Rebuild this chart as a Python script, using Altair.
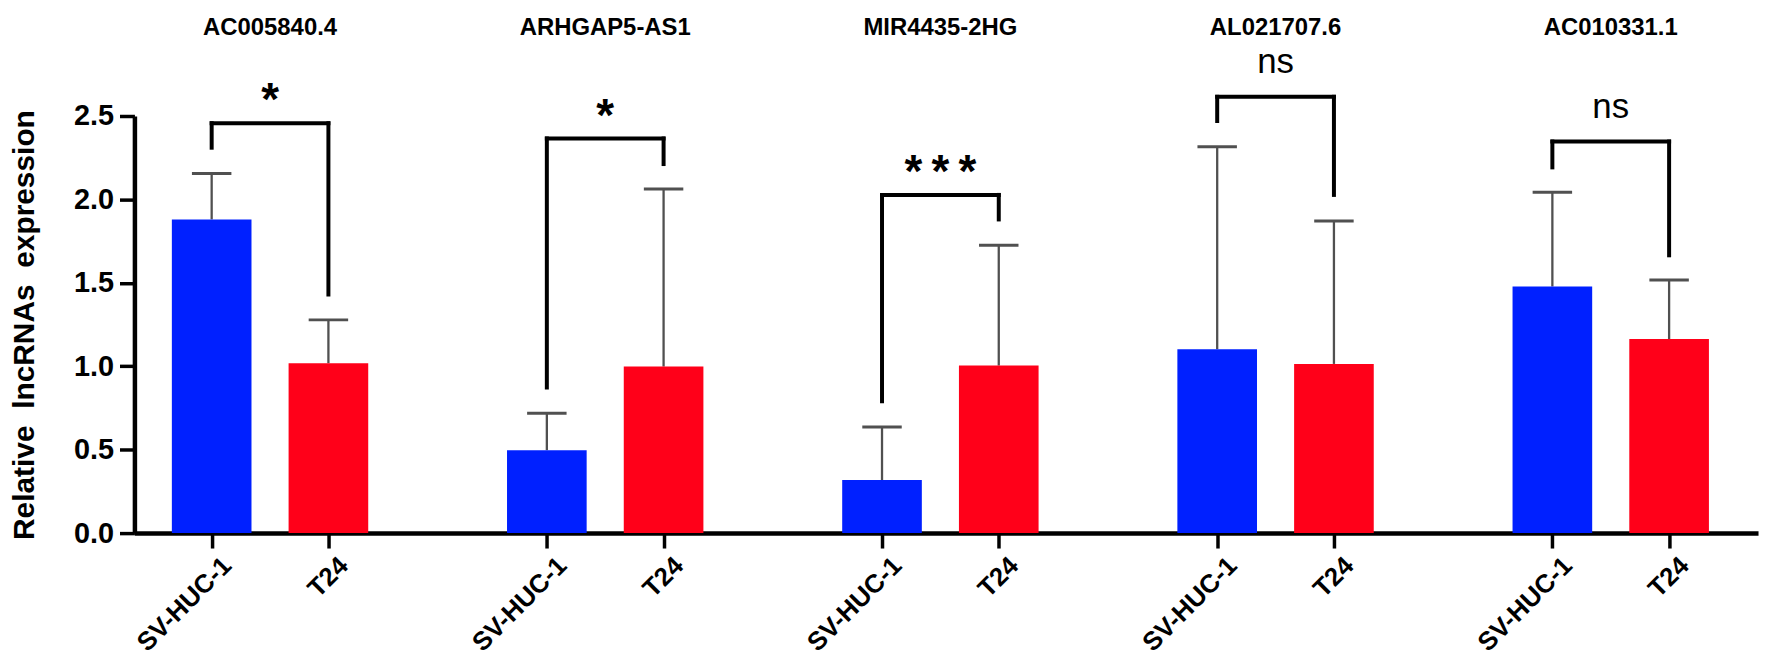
import altair as alt
import pandas as pd

# ---- data ----
genes = ["AC005840.4", "ARHGAP5-AS1", "MIR4435-2HG", "AL021707.6", "AC010331.1"]
cells = ["SV-HUC-1", "T24"]
sv_mean = [1.88, 0.497, 0.318, 1.102, 1.478]
sv_upper = [2.156, 0.718, 0.636, 2.315, 2.043]
t24_mean = [1.018, 0.998, 1.004, 1.014, 1.163]
t24_upper = [1.278, 2.062, 1.726, 1.871, 1.517]
sig_labels = ["*", "*", "***", "ns", "ns"]
bracket_top = [2.457, 2.365, 2.027, 2.615, 2.347]
bracket_left_end = [2.31, 0.873, 0.79, 2.47, 2.192]
bracket_right_end = [1.43, 2.212, 1.88, 2.027, 1.665]
y_ticks = [0, 0.5, 1.0, 1.5, 2.0, 2.5]

BLUE = "#0020FF"
RED = "#FF0019"
FONT = "Liberation Sans"

K = 2.871          # group step in x units (one unit = spacing between the two bars)
CAP = 0.169        # half cap width in x units

rows = []
for g, gene in enumerate(genes):
    rows.append({"gene": gene, "cell": cells[0], "g": g, "c": 0,
                 "mean": sv_mean[g], "upper": sv_upper[g]})
    rows.append({"gene": gene, "cell": cells[1], "g": g, "c": 1,
                 "mean": t24_mean[g], "upper": t24_upper[g]})
bars_df = pd.DataFrame(rows)

sig_df = pd.DataFrame({
    "gene": genes,
    "g": list(range(len(genes))),
    "label": sig_labels,
    "shown": ["\u2009".join(list(s)) for s in sig_labels],
    "top": bracket_top,
    "lend": bracket_left_end,
    "rend": bracket_right_end,
})

tick_vals = [g * K + c for g in range(len(genes)) for c in range(2)]
label_expr = (f"abs(datum.value - round(datum.value / {K}) * {K}) < 0.5 "
              f"? '{cells[0]}' : '{cells[1]}'")

xscale = alt.Scale(domain=[-0.619, 13.203], nice=False, zero=False)
yscale = alt.Scale(domain=[0, 2.5], nice=False)

xaxis = alt.Axis(values=tick_vals, labelExpr=label_expr, title=None, grid=False,
                 domainColor="black", domainWidth=4.5, tickColor="black",
                 tickWidth=3.5, tickSize=15, labelAngle=-45, labelAlign="right",
                 labelBaseline="top", labelFont=FONT, labelFontWeight="bold",
                 labelFontSize=26, labelColor="black", labelPadding=4,
                 labelOffset=6, labelOverlap=False, labelFlush=False)
yaxis = alt.Axis(values=y_ticks, format=".1f", grid=False,
                 domainColor="black", domainWidth=4.5, tickColor="black",
                 tickWidth=3.5, tickSize=15, labelFont=FONT, labelFontWeight="bold",
                 labelFontSize=29, labelColor="black", labelPadding=6,
                 title="Relative\u00a0\u00a0lncRNAs\u00a0\u00a0expression",
                 titleFont=FONT, titleFontWeight="bold", titleFontSize=30,
                 titleColor="black", titlePadding=34)

base = alt.Chart(bars_df).transform_calculate(
    pos=f"datum.g * {K} + datum.c",
    capl=f"datum.g * {K} + datum.c - {CAP}",
    capr=f"datum.g * {K} + datum.c + {CAP}",
)

err = base.mark_rule(color="#505050", strokeWidth=2.3).encode(
    x=alt.X("pos:Q", scale=xscale, axis=xaxis),
    y=alt.Y("mean:Q", scale=yscale, axis=yaxis),
    y2="upper:Q",
)
caps = base.mark_rule(color="#505050", strokeWidth=3).encode(
    x="capl:Q", x2="capr:Q", y="upper:Q",
)
bars = base.mark_bar(size=80).encode(
    x=alt.X("pos:Q", scale=xscale, axis=xaxis),
    y=alt.Y("mean:Q", scale=yscale, axis=yaxis),
    color=alt.Color("cell:N", scale=alt.Scale(domain=cells, range=[BLUE, RED]),
                    legend=None),
)

sbase = alt.Chart(sig_df).transform_calculate(
    xl=f"datum.g * {K}",
    xr=f"datum.g * {K} + 1",
    xm=f"datum.g * {K} + 0.5",
)
br_h = sbase.mark_rule(color="black", strokeWidth=4, strokeCap="square").encode(
    x="xl:Q", x2="xr:Q", y="top:Q")
br_l = sbase.mark_rule(color="black", strokeWidth=4, strokeCap="square").encode(
    x="xl:Q", y="top:Q", y2="lend:Q")
br_r = sbase.mark_rule(color="black", strokeWidth=4, strokeCap="square").encode(
    x="xr:Q", y="top:Q", y2="rend:Q")

stars = sbase.transform_filter("datum.label != 'ns'").mark_text(
    font=FONT, fontSize=46, fontWeight="bold", color="black",
    baseline="alphabetic", align="center", dy=-8,
).encode(x="xm:Q", y="top:Q", text="shown:N")
ns = sbase.transform_filter("datum.label == 'ns'").mark_text(
    font=FONT, fontSize=35, color="black",
    baseline="alphabetic", align="center", dy=-24,
).encode(x="xm:Q", y="top:Q", text="label:N")

titles = sbase.mark_text(
    font=FONT, fontSize=24, fontWeight="bold", color="black",
    baseline="alphabetic", align="center",
).encode(x="xm:Q", y=alt.value(-81), text="gene:N")

chart = alt.layer(err, caps, bars, br_h, br_l, br_r, stars, ns, titles).properties(
    width=1631, height=419,
    autosize=alt.AutoSizeParams(type="none"),
    padding={"left": 127, "top": 107, "right": 6, "bottom": 129},
    background="white",
).configure_view(stroke=None)

chart.save("out.html", embed_options={"renderer": "svg", "actions": False})
